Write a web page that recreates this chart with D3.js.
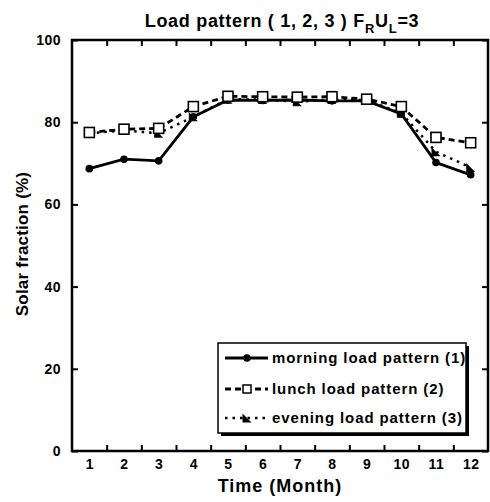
<!DOCTYPE html>
<html><head><meta charset="utf-8">
<script src="https://cdn.jsdelivr.net/npm/d3@7"></script>
<style>body{margin:0;background:#fff}svg{display:block}text{font-family:"Liberation Sans",Arial,sans-serif;font-weight:bold;fill:#000}</style>
</head><body><svg id="c" width="490" height="502"></svg>
<script>
const months = [1,2,3,4,5,6,7,8,9,10,11,12];
const morning = [68.7,71.0,70.6,81.3,85.4,85.3,85.4,85.2,85.2,82.0,70.2,67.2];
const lunch   = [77.5,78.3,78.5,83.8,86.3,86.2,86.1,86.2,85.6,83.8,76.3,75.0];
const evening = [77.3,78.0,77.3,81.3,85.6,85.5,85.0,85.5,85.4,82.2,72.8,69.0];
const yTicks = [0,20,40,60,80,100];
const seriesNames = ["morning load pattern (1)","lunch load pattern (2)","evening load pattern (3)"];

const svg = d3.select("#c");
const L=72, R=488, T=40, B=451;
const x = d3.scaleLinear().domain([0.5,12.5]).range([L,R]);
const y = d3.scaleLinear().domain([0,100]).range([B,T]);

const styleTicks = g=>{g.select(".domain").remove();g.selectAll("line").attr("stroke","#000").attr("stroke-width",2);
  g.selectAll("text").attr("font-size",14).attr("font-family","Liberation Sans, Arial").attr("font-weight","bold").attr("fill","#000").attr("letter-spacing",0.5);};
const between = d3.range(1.5,12,1);
svg.append("g").attr("transform",`translate(0,${B})`)
  .call(d3.axisBottom(x).tickValues(between).tickSize(-6).tickFormat("")).call(styleTicks);
svg.append("g").attr("transform",`translate(0,${T})`)
  .call(d3.axisTop(x).tickValues(between).tickSize(-6).tickFormat("")).call(styleTicks);
svg.append("g").attr("transform",`translate(${L},0)`)
  .call(d3.axisLeft(y).tickValues(yTicks).tickSize(-6).tickPadding(11)).call(styleTicks);
svg.append("g").attr("transform",`translate(${R},0)`)
  .call(d3.axisRight(y).tickValues(yTicks).tickSize(-6).tickFormat("")).call(styleTicks);
svg.append("g").attr("transform",`translate(0,${B})`)
  .call(d3.axisBottom(x).tickValues(months).tickSize(0).tickPadding(8).tickFormat(d3.format("d"))).call(styleTicks);

svg.append("rect").attr("x",L).attr("y",T).attr("width",R-L).attr("height",B-T)
  .attr("fill","none").attr("stroke","#000").attr("stroke-width",2.5);

const line = d3.line().x((d,i)=>x(months[i])).y(d=>y(d));
const styles = [
  {data:morning, dash:null, w:2.8},
  {data:lunch, dash:"6,4", w:2.8},
  {data:evening, dash:"2.5,5", w:2.5}
];
styles.forEach(s=>{
  svg.append("path").datum(s.data).attr("d",line).attr("fill","none")
    .attr("stroke","#000").attr("stroke-width",s.w).attr("stroke-dasharray",s.dash);
});
const tri = "M-4.5,-4.5L4.5,4.5L-4.5,4.5Z";
function marker(g,k){
  if(k===0) g.append("circle").attr("r",3.8).attr("fill","#000");
  else if(k===1) g.append("rect").attr("x",-5).attr("y",-5).attr("width",10).attr("height",10).attr("fill","#fff").attr("stroke","#000").attr("stroke-width",1.6);
  else g.append("path").attr("d",tri).attr("fill","#000");
}
[2,0,1].forEach(k=>{
  styles[k].data.forEach((v,i)=>{
    marker(svg.append("g").attr("transform",`translate(${x(months[i])},${y(v)})`),k);
  });
});

// legend
const lg = svg.append("g");
lg.append("rect").attr("x",221).attr("y",346).attr("width",248).attr("height",90).attr("fill","#000");
lg.append("rect").attr("x",218).attr("y",343).attr("width",248).attr("height",90).attr("fill","#fff").attr("stroke","#000").attr("stroke-width",1.5);
const rowsY=[358,389,418];
seriesNames.forEach((n,k)=>{
  const yy=rowsY[k];
  lg.append("line").attr("x1",225).attr("x2",268).attr("y1",yy).attr("y2",yy)
    .attr("stroke","#000").attr("stroke-width",styles[k].w).attr("stroke-dasharray",styles[k].dash);
  const g=lg.append("g").attr("transform",`translate(247,${yy})`);
  if(k===1){ g.append("rect").attr("x",-4).attr("y",-4).attr("width",8).attr("height",8).attr("fill","#fff").attr("stroke","#000").attr("stroke-width",1.5);}
  else marker(g,k);
  lg.append("text").attr("x",272).attr("y",yy+5).attr("font-size",15).attr("letter-spacing",0.9).text(n);
});

// titles
const t=svg.append("text").attr("x",282).attr("y",27).attr("text-anchor","middle").attr("font-size",18).attr("letter-spacing",0.7);
t.append("tspan").text("Load pattern ( 1, 2, 3 ) F");
t.append("tspan").attr("font-size",13).attr("dy",6).text("R");
t.append("tspan").attr("dy",-6).text("U");
t.append("tspan").attr("font-size",13).attr("dy",6).text("L");
t.append("tspan").attr("dy",-6).text("=3");
svg.append("text").attr("x",280).attr("y",492).attr("text-anchor","middle").attr("font-size",18).attr("letter-spacing",1).text("Time (Month)");
svg.append("text").attr("transform","translate(28,244) rotate(-90)").attr("text-anchor","middle").attr("font-size",17).attr("letter-spacing",0.2).text("Solar fraction (%)");
</script></body></html>
